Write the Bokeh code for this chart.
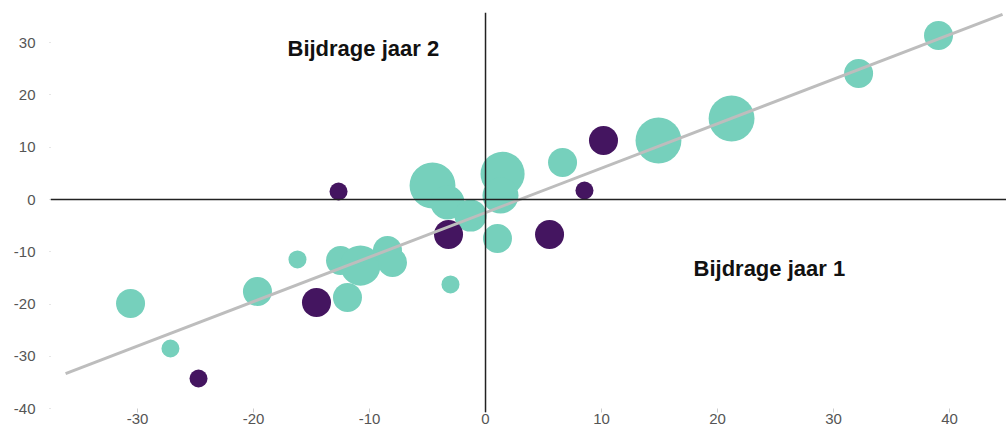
import numpy as np
from bokeh.plotting import figure
from bokeh.models import ColumnDataSource, Span, FixedTicker
from bokeh.core.properties import value
from bokeh.embed import file_html
from bokeh.resources import INLINE

# --- data ---
teal_x = [39.05, 32.16, 21.21, 14.91, 6.64, 1.47, 1.29, 1.03, -4.57, -3.28, -1.29,
          -3.02, -16.21, -12.5, -10.78, -8.45, -8.02, -11.9, -19.66, -30.6, -27.16]
teal_y = [31.36, 24.09, 15.49, 11.28, 7.07, 4.90, 0.76, -7.46, 2.68, -0.57, -3.06,
          -16.25, -11.47, -11.66, -12.62, -9.75, -12.05, -18.74, -17.59, -19.89, -28.49]
teal_w = [2.6, 2.6, 6.5, 6.5, 2.6, 6.0, 4.0, 2.6, 6.5, 3.6, 3.2,
          1.0, 1.0, 2.6, 5.0, 2.6, 2.6, 2.6, 2.6, 2.6, 1.0]

purple_x = [10.17, 8.53, 5.52, -3.19, -12.67, -14.57, -24.74]
purple_y = [11.28, 1.72, -6.69, -6.69, 1.53, -19.69, -34.23]
purple_w = [2.6, 1.0, 2.6, 2.6, 1.0, 2.6, 1.0]

trend_x = [-36.2, 44.57]
trend_y = [-33.3, 35.4]

x_ticks = [-30, -20, -10, 0, 10, 20, 30, 40]
y_ticks = [-40, -30, -20, -10, 0, 10, 20, 30]

label_texts = ["Bijdrage jaar 2", "Bijdrage jaar 1"]

TEAL = "#76d0bc"
PURPLE = "#441560"

p = figure(width=1006, height=432, output_backend="svg", toolbar_location=None,
           x_range=(-37.5, 44.91), y_range=(-40.73, 35.76),
           min_border_left=50, min_border_right=0, min_border_top=12, min_border_bottom=20)
p.outline_line_color = None
p.xgrid.visible = False
p.ygrid.visible = False
p.background_fill_color = "white"

for ax in (p.xaxis[0], p.yaxis[0]):
    ax.axis_line_color = None
    ax.minor_tick_line_color = None
    ax.major_tick_line_color = "#cccccc"
    ax.major_label_text_font = "Liberation Sans"
    ax.major_label_text_color = "#555555"
    ax.major_label_text_font_size = "15px"

p.xaxis.ticker = FixedTicker(ticks=x_ticks)
p.yaxis.ticker = FixedTicker(ticks=y_ticks)
p.xaxis.major_label_overrides = {t: str(t) for t in x_ticks}
p.yaxis.major_label_overrides = {t: str(t) for t in y_ticks}
p.xaxis.major_tick_in = 4
p.xaxis.major_tick_out = 0
p.xaxis.major_label_standoff = 1
p.yaxis.major_tick_in = 0
p.yaxis.major_tick_out = 1
p.yaxis.major_label_standoff = 14

p.add_layout(Span(location=0, dimension="height", line_color="#222222", line_width=1.5))
p.add_layout(Span(location=0, dimension="width", line_color="#222222", line_width=1.5))

teal_src = ColumnDataSource(dict(x=teal_x, y=teal_y, s=list(18 * np.sqrt(teal_w))))
purple_src = ColumnDataSource(dict(x=purple_x, y=purple_y, s=list(18 * np.sqrt(purple_w))))

p.scatter("x", "y", size="s", source=teal_src, fill_color=TEAL, line_color=None)
p.scatter("x", "y", size="s", source=purple_src, fill_color=PURPLE, line_color=None)

p.line(trend_x, trend_y, line_color="#bdbdbd", line_width=3)

lab_src = ColumnDataSource(dict(x=[-17.07, 17.93], y=[28.87, -13.19], t=label_texts))
p.text("x", "y", text="t", source=lab_src, text_font=value("Liberation Sans"),
       text_font_style="bold", text_font_size="22px", text_color="#111111",
       text_align="left", text_baseline="middle")

open("out.html", "w").write(file_html(p, INLINE))
